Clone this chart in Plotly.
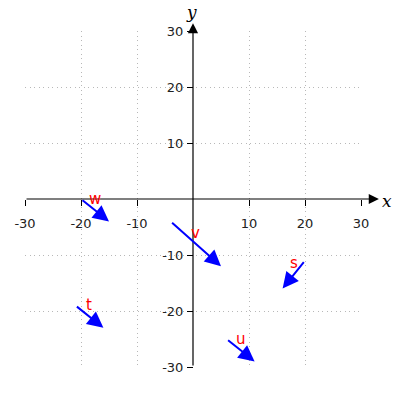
import plotly.graph_objects as go

# vector data: name, start point, components
names = ["w", "v", "s", "t", "u"]
x0 = [-20, -4, 20, -21, 6]
y0 = [0, -4, -11, -19, -25]
dx = [5, 9, -4, 5, 5]
dy = [-4, -8, -5, -4, -4]

tick_vals = [-30, -20, -10, 10, 20, 30]
tick_text = ["-30", "-20", "-10", "10", "20", "30"]

fig = go.Figure()
# invisible trace to establish axes
fig.add_trace(go.Scatter(x=[-30, 30], y=[-30, 30], mode="markers",
                         marker=dict(opacity=0), hoverinfo="skip", showlegend=False))

annotations = []
# axis lines with arrows
annotations.append(dict(x=33.2, y=0, ax=-30, ay=0, xref="x", yref="y", axref="x", ayref="y",
                        text="", showarrow=True, arrowhead=2, arrowsize=1.7, arrowwidth=1.2,
                        arrowcolor="black", standoff=0))
annotations.append(dict(x=0, y=31.4, ax=0, ay=-30, xref="x", yref="y", axref="x", ayref="y",
                        text="", showarrow=True, arrowhead=2, arrowsize=1.7, arrowwidth=1.2,
                        arrowcolor="black", standoff=0))
annotations.append(dict(x=1.058, y=0.495, xref="paper", yref="paper", text="x", showarrow=False,
                        font=dict(family="DejaVu Serif", size=17, color="black", style="italic"),
                        xanchor="left", yanchor="middle"))
annotations.append(dict(x=0.497, y=1.058, xref="paper", yref="paper", text="y", showarrow=False,
                        font=dict(family="DejaVu Serif", size=17, color="black", style="italic"),
                        xanchor="center", yanchor="middle"))

for n, a, b, c, d in zip(names, x0, y0, dx, dy):
    annotations.append(dict(x=a + c, y=b + d, ax=a, ay=b, xref="x", yref="y", axref="x", ayref="y",
                            text="", showarrow=True, arrowhead=2, arrowsize=1.6, arrowwidth=2,
                            arrowcolor="#0000ff", standoff=0))
    annotations.append(dict(x=a + c / 2, y=b + d / 2 + 2, xref="x", yref="y", text=n,
                            showarrow=False, font=dict(family="DejaVu Sans", size=15, color="#ff0000"),
                            xanchor="center", yanchor="middle"))

axis_common = dict(
    range=[-30, 30], tickvals=tick_vals, ticktext=tick_text,
    showgrid=True, gridcolor="#b8b8b8", griddash="1px,3.5px", gridwidth=1,
    zeroline=False, showline=False, ticks="outside", ticklen=6, tickcolor="black",
    tickwidth=1,
    tickfont=dict(family="DejaVu Sans", size=13, color="#222222"),
    anchor="free", position=0.5, fixedrange=True,
)

fig.update_layout(
    width=400, height=400,
    margin=dict(l=25, r=39, t=31, b=33, autoexpand=False),
    paper_bgcolor="white", plot_bgcolor="white",
    xaxis=dict(**axis_common, ticklabelstandoff=6),
    yaxis=dict(**axis_common, ticklabelstandoff=1),
    annotations=annotations,
    showlegend=False,
)

fig.write_html("out.html", config={"displayModeBar": False},
               post_script="document.body.style.margin='0';")
